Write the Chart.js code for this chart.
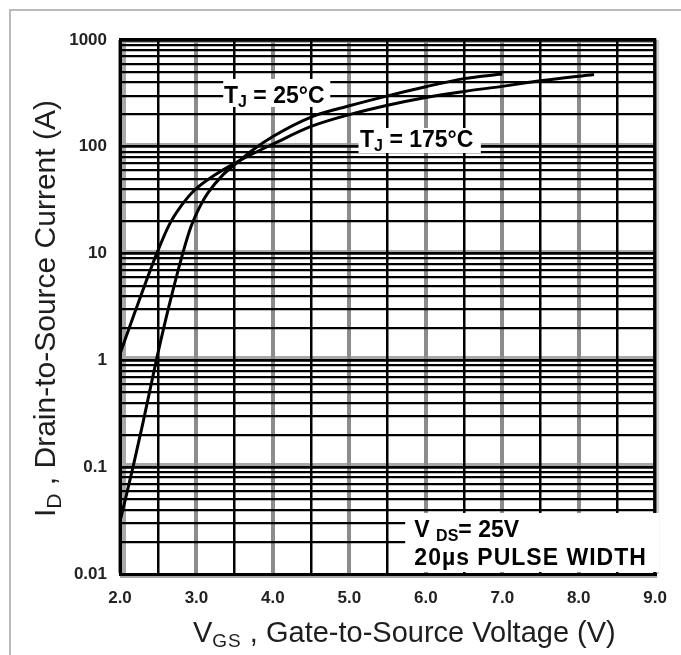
<!DOCTYPE html>
<html>
<head>
<meta charset="utf-8">
<script src="https://cdn.jsdelivr.net/npm/chart.js@4.4.1/dist/chart.umd.min.js"></script>
<style>
  html, body { margin: 0; padding: 0; background: #fff; overflow: hidden; }
  #frame { position: absolute; left: 9px; top: 9px; width: 700px; height: 700px;
           border-left: 2px solid #bababa; border-top: 2px solid #bababa; }
  #chartContainer { position: absolute; left: 0; top: 0; width: 681px; height: 655px; }
</style>
</head>
<body>
<div id="frame"></div>
<div id="chartContainer"><canvas id="chart"></canvas></div>
<script>
// typical transfer characteristics
const vgs25 = [2.0, 2.17, 2.3, 2.475, 2.63, 2.82, 2.93, 3.05, 3.15, 3.34, 3.5, 3.75, 4.0, 4.5, 5.0, 5.5, 6.0, 6.5, 7.0];
const id25 = [0.031, 0.1, 0.26, 1.0, 3.0, 10, 18, 28, 37, 54, 68, 95, 125, 190, 242, 300, 365, 435, 480];

const vgs175 = [2.0, 2.2, 2.48, 2.65, 2.8, 2.97, 3.25, 3.5, 3.75, 4.0, 4.5, 5.0, 5.5, 6.0, 6.5, 7.0, 7.5, 8.2];
const id175 = [1.15, 2.9, 10, 19, 28, 39, 55, 70, 87, 106, 155, 200, 245, 290, 330, 368, 415, 475];

const xTicks = [2, 3, 4, 5, 6, 7, 8, 9];
const xTickLabels = ['2.0', '3.0', '4.0', '5.0', '6.0', '7.0', '8.0', '9.0'];
const yDecades = [0.01, 0.1, 1, 10, 100, 1000];
const yTickLabels = ['0.01', '0.1', '1', '10', '100', '1000'];

const FONT = "'Liberation Sans', Arial, sans-serif";

const toPoints = (xs, ys) => xs.map((x, i) => ({ x: x, y: ys[i] }));
const isDecade = (v) => yDecades.some((d) => Math.abs(d - v) < d * 1e-6);

// label boxes, in data units
const notes = [
  {
    box: { x0: 3.35, x1: 4.75, y0: 236, y1: 432 },
    at: { x: 3.36, y: 257 },
    lines: [[
      { text: 'T', font: 'bold 23px ' + FONT },
      { text: 'J', font: 'bold 16px ' + FONT, dy: 4 },
      { text: ' = 25°C', font: 'bold 23px ' + FONT },
    ]],
  },
  {
    box: { x0: 5.12, x1: 6.72, y0: 87.5, y1: 150 },
    at: { x: 5.14, y: 100 },
    lines: [[
      { text: 'T', font: 'bold 23px ' + FONT },
      { text: 'J', font: 'bold 16px ' + FONT, dy: 4 },
      { text: ' = 175°C', font: 'bold 23px ' + FONT },
    ]],
  },
  {
    box: { x0: 5.73, x1: 9.05, y0: 0.0098, y1: 0.0373 },
    at: { x: 5.85, y: 0.0222 },
    lineGap: 28,
    lines: [
      [
        { text: 'V ', font: 'bold 23px ' + FONT },
        { text: 'DS', font: 'bold 16px ' + FONT, dy: 4 },
        { text: '= 25V', font: 'bold 23px ' + FONT },
      ],
      [{ text: '20µs PULSE WIDTH', font: 'bold 23px ' + FONT, spacing: 1 }],
    ],
  },
];

const drawRuns = (ctx, runs, x, y) => {
  let cx = x;
  runs.forEach((r) => {
    ctx.font = r.font;
    ctx.letterSpacing = (r.spacing || 0) + 'px';
    ctx.fillText(r.text, cx, y + (r.dy || 0));
    cx += ctx.measureText(r.text).width;
  });
};

const figurePlugin = {
  id: 'figure',
  beforeDraw(chart) {
    const { ctx, chartArea: a, scales: { y } } = chart;
    ctx.save();
    // grey shadow just above each inner decade line and inside the frame
    ctx.fillStyle = '#a8a8a8';
    yDecades.slice(1, -1).forEach((d) => {
      const py = Math.round(y.getPixelForValue(d));
      ctx.fillRect(a.left, py - 4, a.right - a.left, 3);
    });
    ctx.fillRect(a.left + 2, a.top + 1, 4, a.bottom - a.top);
    ctx.fillRect(a.left, a.top + 1, a.right - a.left, 2);
    ctx.fillRect(a.left, a.bottom + 1, a.right - a.left + 2, 3);
    ctx.fillStyle = '#d2d2d2';
    ctx.fillRect(a.right + 1, a.top, 3, a.bottom - a.top);
    ctx.restore();
  },
  beforeDatasetsDraw(chart) {
    const { ctx, chartArea: a, scales: { x, y } } = chart;
    ctx.save();
    ctx.fillStyle = '#000';
    ctx.fillRect(a.left - 1, a.top - 2, a.right - a.left + 2, 3);
    ctx.fillRect(a.right - 2, a.top - 2, 3, a.bottom - a.top + 2);
    // white label boxes
    ctx.fillStyle = '#fff';
    notes.forEach((n) => {
      const x0 = x.getPixelForValue(n.box.x0);
      const x1 = x.getPixelForValue(n.box.x1);
      const y0 = y.getPixelForValue(n.box.y1);
      const y1 = y.getPixelForValue(n.box.y0);
      ctx.fillRect(x0, y0, Math.min(x1, a.right + 4) - x0, Math.min(y1, a.bottom - 2) - y0);
    });
    ctx.restore();
  },
  afterDatasetsDraw(chart) {
    const { ctx, scales: { x, y } } = chart;
    ctx.save();
    ctx.fillStyle = '#000';
    ctx.textBaseline = 'alphabetic';
    notes.forEach((n) => {
      const px = x.getPixelForValue(n.at.x);
      const py = y.getPixelForValue(n.at.y);
      n.lines.forEach((runs, i) => drawRuns(ctx, runs, px, py + i * (n.lineGap || 0)));
    });
    ctx.restore();
  },
  afterDraw(chart) {
    const { ctx, chartArea: a } = chart;
    ctx.save();
    ctx.fillStyle = '#1e1e1e';
    ctx.textBaseline = 'alphabetic';
    // x axis title
    drawRuns(ctx, [
      { text: 'V', font: '29px ' + FONT },
      { text: 'GS', font: '19px ' + FONT, dy: 5, spacing: 1 },
      { text: ' , Gate-to-Source Voltage (V)', font: '29px ' + FONT },
    ], a.left + 73, a.bottom + 68);
    // y axis title
    ctx.translate(a.left - 65, a.bottom - 57);
    ctx.rotate(-Math.PI / 2);
    drawRuns(ctx, [
      { text: 'I', font: '30px ' + FONT },
      { text: 'D', font: '21px ' + FONT, dy: 6 },
      { text: ' , Drain-to-Source Current (A)', font: '30px ' + FONT },
    ], 0, 0);
    ctx.restore();
  },
};

const curveStyle = {
  borderColor: '#000',
  borderWidth: 3,
  pointRadius: 0,
  fill: false,
  cubicInterpolationMode: 'monotone',
};

new Chart('chart', {
  type: 'line',
  data: {
    datasets: [
      { label: 'TJ = 25°C', data: toPoints(vgs25, id25), ...curveStyle },
      { label: 'TJ = 175°C', data: toPoints(vgs175, id175), ...curveStyle },
    ],
  },
  options: {
    responsive: true,
    maintainAspectRatio: false,
    animation: false,
    layout: { padding: { top: 40, right: 21, left: 0, bottom: 0 } },
    plugins: {
      legend: { display: false },
      tooltip: { enabled: false },
    },
    scales: {
      x: {
        type: 'linear',
        min: 2,
        max: 9,
        ticks: {
          stepSize: 0.5,
          maxTicksLimit: 20,
          autoSkip: false,
          maxRotation: 0,
          padding: 14,
          color: '#222',
          font: { family: FONT, size: 17, weight: 'bold' },
          callback: (v) => {
            const i = xTicks.indexOf(v);
            return i >= 0 ? xTickLabels[i] : '';
          },
        },
        grid: {
          drawTicks: false,
          color: (c) => (Number.isInteger(c.tick.value) ? '#8c8c8c' : '#000'),
          lineWidth: (c) => (Number.isInteger(c.tick.value) ? 4 : 2.5),
        },
        border: { color: '#000', width: 3 },
        afterFit: (s) => {
          s.height = 81;
        },
      },
      y: {
        type: 'logarithmic',
        min: 0.01,
        max: 1000,
        afterBuildTicks: (s) => {
          const ticks = [];
          yDecades.slice(0, -1).forEach((d) => {
            for (let k = 1; k <= 9; k++) ticks.push({ value: k * d });
          });
          ticks.push({ value: yDecades[yDecades.length - 1] });
          s.ticks = ticks;
        },
        ticks: {
          autoSkip: false,
          padding: 13,
          color: '#222',
          font: { family: FONT, size: 17, weight: 'bold' },
          callback: (v) => {
            const i = yDecades.findIndex((d) => Math.abs(d - v) < d * 1e-6);
            return i >= 0 ? yTickLabels[i] : '';
          },
        },
        grid: {
          drawTicks: false,
          color: '#000',
          lineWidth: (c) => (isDecade(c.tick.value) ? 2.8 : 2.3),
        },
        border: { color: '#000', width: 3 },
        afterFit: (s) => {
          s.width = 120;
        },
      },
    },
  },
  plugins: [figurePlugin],
});
</script>
</body>
</html>
